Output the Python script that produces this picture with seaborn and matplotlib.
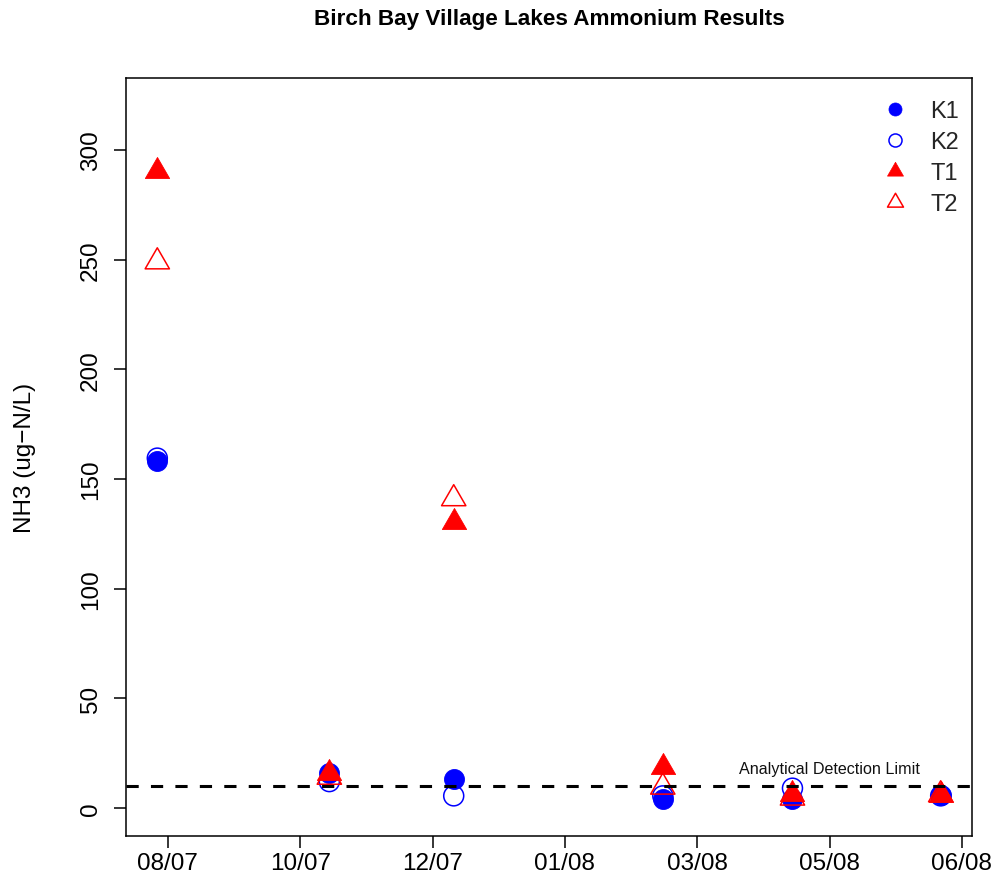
import numpy as np
import pandas as pd
import matplotlib
matplotlib.use("Agg")
import matplotlib.pyplot as plt
from matplotlib.path import Path
from matplotlib.lines import Line2D
import seaborn as sns

# Sampling dates and ammonium results (ug-N/L) per station
sample_dates = ["2007-08-21", "2007-10-25", "2007-12-11",
                "2008-02-28", "2008-04-17", "2008-06-12"]
k1 = [158, 16, 13, 4, 4, 6]
k2 = [159.5, 12, 5.5, 5.5, 9, 5.5]
t1 = [290.5, 16, 130.5, 18.5, 6.5, 6]
t2 = [249, 14, 141, 9.5, 4.5, 6]

detection_limit = 10
detection_label = "Analytical Detection Limit"
detection_label_date = "2008-05-01"
detection_label_y = 16

tick_dates = ["2007-08-25", "2007-10-14", "2007-12-03", "2008-01-22",
              "2008-03-12", "2008-05-01", "2008-06-20"]
tick_labels = ["08/07", "10/07", "12/07", "01/08", "03/08", "05/08", "06/08"]
y_ticks = [0, 50, 100, 150, 200, 250, 300]
y_range = (0, 320)

sns.set_theme(style="white")
plt.rcParams["font.family"] = ["Liberation Sans", "DejaVu Sans"]

df = pd.DataFrame({
    "date": pd.to_datetime(sample_dates),
    "K1": k1, "K2": k2, "T1": t1, "T2": t2,
})

# triangle with its centroid on the data point
tri = Path([(0, 1.5551), (1.3468, -0.7776), (-1.3468, -0.7776), (0, 1.5551)],
           [Path.MOVETO, Path.LINETO, Path.LINETO, Path.CLOSEPOLY])

series = [
    ("K1", "o", "#0000FF", True),
    ("K2", "o", "#0000FF", False),
    ("T1", tri, "#FF0000", True),
    ("T2", tri, "#FF0000", False),
]
plot_size = {"o": 207, "tri": 408}
label_size = 17.5

fig = plt.figure(figsize=(9.95, 8.95), dpi=100)
ax = fig.add_axes([0.1266, 0.0648, 0.8503, 0.8469])

for name, marker, color, filled in series:
    s = plot_size["o"] if isinstance(marker, str) else plot_size["tri"]
    sns.scatterplot(data=df, x="date", y=name, ax=ax, marker=marker, s=s,
                    color=color, facecolor=color if filled else "none",
                    edgecolor=color, linewidth=0.6 if filled else 1.1,
                    legend=False, zorder=3)

ax.axhline(detection_limit, color="black", lw=2.2, ls=(0, (4, 4)), zorder=4)
ax.text(pd.Timestamp(detection_label_date), detection_label_y, detection_label,
        ha="center", va="baseline", fontsize=11.6, color="#111111", zorder=5)

dmin, dmax = df["date"].min(), df["date"].max()
span = dmax - dmin
ax.set_xlim(dmin - span * 0.04, dmax + span * 0.04)
yspan = y_range[1] - y_range[0]
ax.set_ylim(y_range[0] - 0.04 * yspan, y_range[1] + 0.04 * yspan)

ax.set_xticks(pd.to_datetime(tick_dates))
ax.set_xticklabels(tick_labels)
ax.set_yticks(y_ticks)
ax.set_yticklabels([str(v) for v in y_ticks], rotation=90, va="center")

ax.tick_params(axis="both", direction="out", length=8.6, width=1.1,
               color="black", labelcolor="black", labelsize=label_size,
               bottom=True, left=True)
ax.tick_params(axis="x", pad=2.6)
ax.tick_params(axis="y", pad=8.6)

for sp in ax.spines.values():
    sp.set_color("black")
    sp.set_linewidth(1.1)

ax.set_xlabel("")
ax.set_ylabel("NH3 (ug\u2212N/L)", fontsize=label_size, color="black", va="center")
ax.yaxis.set_label_coords(-0.1194, 0.5)

ax.set_title("Birch Bay Village Lakes Ammonium Results", fontsize=16.2,
             fontweight="bold", color="black", pad=38.9)

handles = []
for name, marker, color, filled in series:
    ms = 9.4 if isinstance(marker, str) else 13.3
    handles.append(Line2D([], [], ls="none", marker=marker, markersize=ms,
                          markerfacecolor=color if filled else "none",
                          markeredgecolor=color,
                          markeredgewidth=0.5 if filled else 1.1))
ax.legend(handles, [s[0] for s in series], loc="upper left",
          bbox_to_anchor=(0.898, 0.9706), frameon=False, fontsize=17,
          handlelength=0.8, handletextpad=1.085, labelspacing=0.38,
          borderpad=0, borderaxespad=0)

fig.savefig("out.png", dpi=100)
